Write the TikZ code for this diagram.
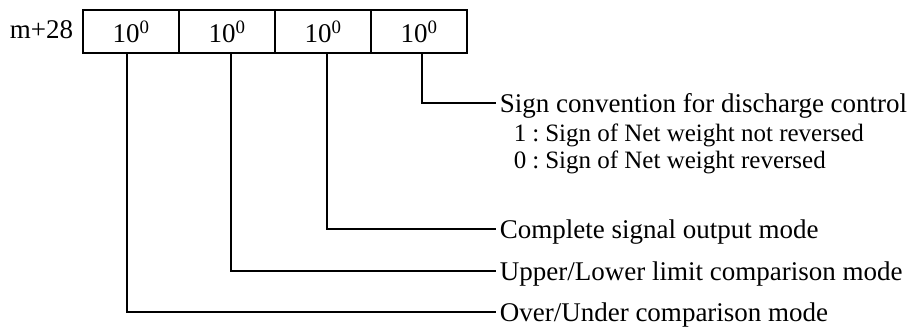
\documentclass[tikz,border=0pt]{standalone}
\usepackage{fontspec}
\setmainfont{Liberation Serif}
\begin{document}
\begin{tikzpicture}[x=1pt,y=-1pt,line width=1.6pt,
  cell/.style={draw,minimum width=96pt,minimum height=43pt,inner sep=0pt,
    font=\fontsize{27}{30}\selectfont},
  lbl/.style={anchor=west,inner sep=0pt,text height=18.5pt,text depth=0.5pt,
    font=\fontsize{27}{30}\selectfont},
  sublbl/.style={anchor=base west,inner sep=0pt,font=\fontsize{25}{28}\selectfont},
  conn/.style={line width=1.6pt}]
\useasboundingbox (0,0) rectangle (910,327);
\node[cell] (c1) at (131,31.5) {10\textsuperscript{0}};
\node[cell] (c2) at (227,31.5) {10\textsuperscript{0}};
\node[cell] (c3) at (323,31.5) {10\textsuperscript{0}};
\node[cell] (c4) at (419,31.5) {10\textsuperscript{0}};
\node[anchor=east,inner sep=0pt,font=\fontsize{27}{30}\selectfont] (addr) at (74,30) {m+28};

\node[lbl] (l1) at (499,103) {Sign convention for discharge control};
\node[sublbl] (s1) at (513,141) {1\hspace{6pt}:\hspace{6pt}Sign of Net weight not reversed};
\node[sublbl] (s2) at (513,168) {0\hspace{6pt}:\hspace{6pt}Sign of Net weight reversed};
\node[lbl] (l2) at (499,229) {Complete signal output mode};
\node[lbl] (l3) at (499,271) {Upper/Lower limit comparison mode};
\node[lbl] (l4) at (499,312) {Over/Under comparison mode};

\draw[conn] ([xshift=3pt]c4.south) |- ([xshift=-3pt]l1.west);
\draw[conn] ([xshift=4pt]c3.south) |- ([xshift=-3pt]l2.west);
\draw[conn] ([xshift=4pt]c2.south) |- ([xshift=-3pt]l3.west);
\draw[conn] ([xshift=-4pt]c1.south) |- ([xshift=-3pt]l4.west);
\end{tikzpicture}
\end{document}
